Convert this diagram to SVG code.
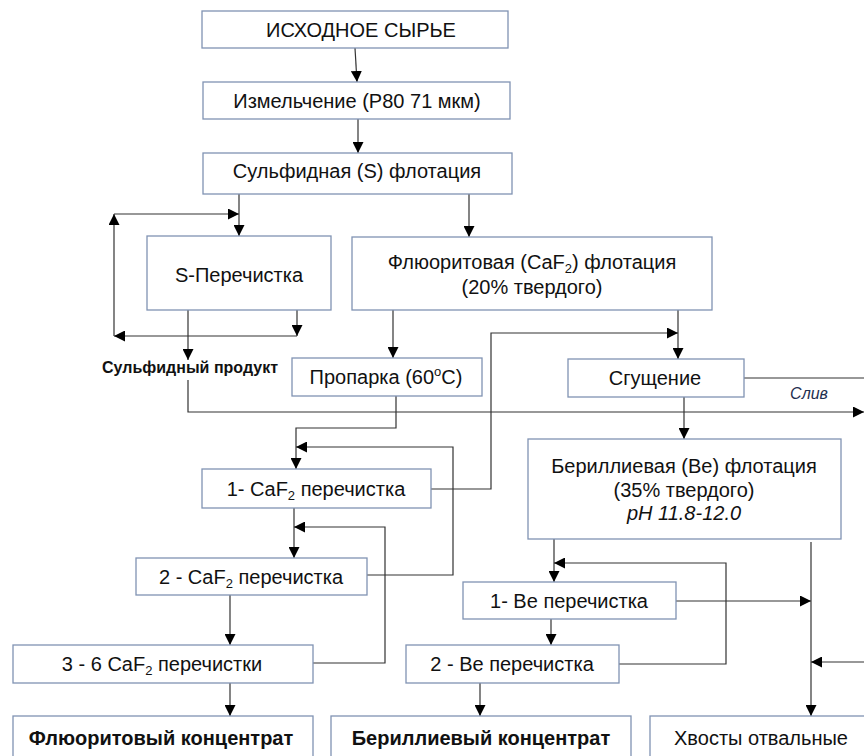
<svg xmlns="http://www.w3.org/2000/svg" width="864" height="756" viewBox="0 0 864 756">
<style>
.box{fill:#ffffff;stroke:#8093b3;stroke-width:1.3}
.t{font-family:"Liberation Sans",Arial,sans-serif;font-size:20px;fill:#111;text-anchor:middle}
.b{font-weight:bold}
.c{fill:none;stroke:#333;stroke-width:1.2}
.ca{fill:none;stroke:#333;stroke-width:1.2;marker-end:url(#ah)}
</style>
<defs>
<marker id="ah" markerUnits="userSpaceOnUse" markerWidth="11" markerHeight="11" refX="10" refY="5" orient="auto" viewBox="0 0 10 10">
<path d="M0,0 L10,5 L0,10 z" fill="#000"/>
</marker>
</defs>
<rect width="864" height="756" fill="#ffffff"/>
<g id="connectors">
<path class="ca" d="M355,48 L357,82"/>
<path class="ca" d="M358,119 V153"/>
<path class="ca" d="M239,194 V236"/>
<path class="ca" d="M469,194 V237"/>
<path class="ca" d="M297,310 V336"/>
<path class="ca" d="M297,336 H114"/>
<path class="ca" d="M114,336 V214"/>
<path class="ca" d="M114,214 H239"/>
<path class="ca" d="M188,310 V360"/>
<path class="ca" d="M188,380 V412 H864"/>
<path class="c" d="M744,378 H864"/>
<path class="ca" d="M393,310 V358"/>
<path class="ca" d="M678,310 V359"/>
<path class="ca" d="M431,489 H491 V333 H678"/>
<path class="ca" d="M684,397 V439"/>
<path class="ca" d="M396,396 V428 H296 V469"/>
<path class="ca" d="M367,575 H453 V447 H296"/>
<path class="ca" d="M294,508 V558"/>
<path class="ca" d="M313,663 H385 V527 H294"/>
<path class="ca" d="M230,595 V645"/>
<path class="ca" d="M230,683 V716"/>
<path class="ca" d="M554,539 V582"/>
<path class="ca" d="M619,664 H726 V563 H554"/>
<path class="ca" d="M551,619 V645"/>
<path class="ca" d="M676,601 H811"/>
<path class="ca" d="M811,542 V716"/>
<path class="ca" d="M864,662 H811"/>
<path class="ca" d="M480,683 V716"/>
</g>
<g id="n1"><rect class="box" x="202" y="11" width="306" height="37"/><text class="t" x="361" y="37">ИСХОДНОЕ СЫРЬЕ</text></g>
<g id="n2"><rect class="box" x="203" y="82" width="307" height="37"/><text class="t" x="357" y="108">Измельчение (P80 71 мкм)</text></g>
<g id="n3"><rect class="box" x="203" y="153" width="309" height="41"/><text class="t" x="357" y="178">Сульфидная (S) флотация</text></g>
<g id="n4"><rect class="box" x="147" y="236" width="184" height="74"/><text class="t" x="239" y="282">S-Перечистка</text></g>
<g id="n5"><rect class="box" x="352" y="237" width="360" height="73"/><text class="t" x="532" y="269">Флюоритовая (CaF<tspan font-size="13" dy="4">2</tspan><tspan dy="-4">) флотация</tspan></text><text class="t" x="532" y="294">(20% твердого)</text></g>
<g id="n6"><text class="t b" x="190" y="373" style="font-size:16px">Сульфидный продукт</text></g>
<g id="n7"><rect class="box" x="292" y="358" width="190" height="38"/><text class="t" x="386" y="384">Пропарка (60<tspan font-size="13" dy="-8">o</tspan><tspan dy="8">C)</tspan></text></g>
<g id="n8"><rect class="box" x="568" y="359" width="176" height="38"/><text class="t" x="655" y="385">Сгущение</text></g>
<g id="n9"><text class="t" x="809" y="399" style="font-size:16px;font-style:italic;fill:#1f3050">Слив</text></g>
<g id="n10"><rect class="box" x="528" y="439" width="313" height="100"/><text class="t" x="684" y="473">Бериллиевая (Be) флотация</text><text class="t" x="684" y="497">(35% твердого)</text><text class="t" x="684" y="520" style="font-style:italic">pH 11.8-12.0</text></g>
<g id="n11"><rect class="box" x="202" y="469" width="229" height="39"/><text class="t" x="316" y="496">1- CaF<tspan font-size="13" dy="4">2</tspan><tspan dy="-4"> перечистка</tspan></text></g>
<g id="n12"><rect class="box" x="136" y="558" width="231" height="37"/><text class="t" x="251" y="584">2 - CaF<tspan font-size="13" dy="4">2</tspan><tspan dy="-4"> перечистка</tspan></text></g>
<g id="n13"><rect class="box" x="13" y="645" width="300" height="38"/><text class="t" x="162" y="671">3 - 6 CaF<tspan font-size="13" dy="4">2</tspan><tspan dy="-4"> перечистки</tspan></text></g>
<g id="n14"><rect class="box" x="463" y="582" width="213" height="37"/><text class="t" x="569" y="608">1- Be перечистка</text></g>
<g id="n15"><rect class="box" x="406" y="645" width="213" height="38"/><text class="t" x="512" y="671">2 - Be перечистка</text></g>
<g id="n16"><rect class="box" x="13" y="716" width="300" height="60"/><text class="t b" x="161" y="745">Флюоритовый концентрат</text></g>
<g id="n17"><rect class="box" x="331" y="716" width="300" height="60"/><text class="t b" x="481" y="745">Бериллиевый концентрат</text></g>
<g id="n18"><rect class="box" x="650" y="716" width="230" height="60"/><text class="t" x="761" y="745">Хвосты отвальные</text></g>
</svg>
